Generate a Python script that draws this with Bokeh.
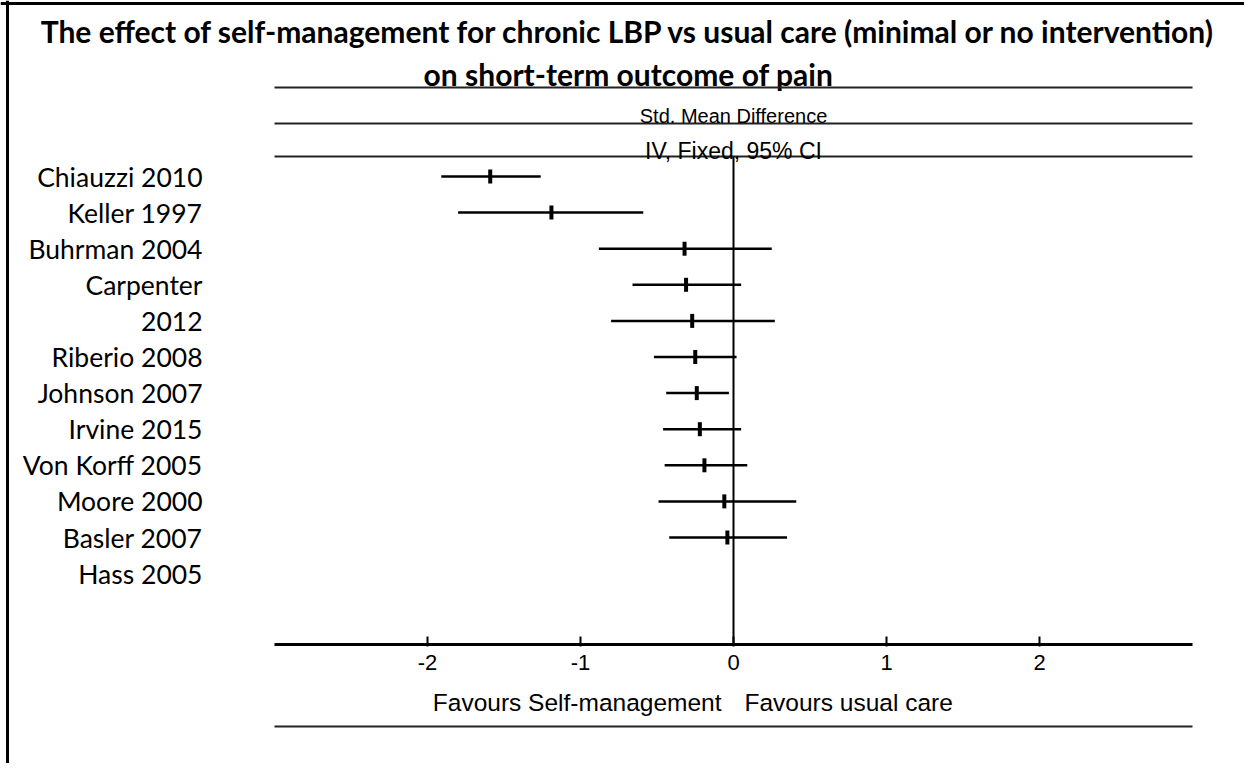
from bokeh.plotting import figure
from bokeh.models import Range1d, LinearAxis, FixedTicker, Span
from bokeh.core.properties import value
from bokeh.embed import file_html
from bokeh.resources import INLINE

# ---------------- data ----------------
title_lines = [
    "The effect of self-management for chronic LBP vs usual care (minimal or no intervention)",
    "on short-term outcome of pain",
]
study_labels = ["Chiauzzi 2010", "Keller 1997", "Buhrman 2004", "Carpenter", "2012",
                "Riberio 2008", "Johnson 2007", "Irvine 2015", "Von Korff 2005",
                "Moore 2000", "Basler 2007", "Hass 2005"]
smd = [-1.59, -1.19, -0.32, -0.31, -0.27, -0.25, -0.24, -0.22, -0.19, -0.06, -0.04]
ci_low = [-1.91, -1.80, -0.88, -0.66, -0.80, -0.52, -0.44, -0.46, -0.45, -0.49, -0.42]
ci_high = [-1.26, -0.59, 0.25, 0.05, 0.27, 0.02, -0.03, 0.05, 0.09, 0.41, 0.35]
x_ticks = [-2, -1, 0, 1, 2]
x_tick_labels = ["-2", "-1", "0", "1", "2"]
x_limits = [-3, 3]
header_texts = ["Std. Mean Difference", "IV, Fixed, 95% CI"]
favours_left = "Favours Self-management"
favours_right = "Favours usual care"

# ---------------- layout ----------------
W, H = 1244, 763
PX_UNIT = 153.0      # pixels per SMD unit
X0_PX = 733.0        # pixel of SMD = 0
ROW_PX = 36.1        # pixels per study row
ROW0_PX = 176.0      # pixel of first row


def ry(py):
    """pixel y -> row units"""
    return (py - ROW0_PX) / ROW_PX


def rx(px):
    """pixel x -> SMD units"""
    return (px - X0_PX) / PX_UNIT


x_range = Range1d(rx(0), rx(W))
y_range = Range1d(ry(H), ry(0))

p = figure(width=W, height=H, x_range=x_range, y_range=y_range,
           output_backend="svg", toolbar_location=None,
           x_axis_type=None, y_axis_type=None, min_border=0)
p.outline_line_color = None
p.background_fill_color = "white"
p.border_fill_color = "white"

# frame border (top and left only)
p.add_layout(Span(location=ry(3), dimension="width", line_color="black", line_width=3))
p.add_layout(Span(location=rx(7), dimension="height", line_color="black", line_width=3))

# title
p.text(x=[rx(628)] * 2, y=[ry(30), ry(73)], text=title_lines,
       text_font=value("Lato"), text_font_style="bold", text_font_size="30px",
       text_align="center", text_baseline="alphabetic", text_color="black")

# header rules and texts
hdr_y = [ry(87), ry(123), ry(156)]
p.segment(x0=[x_limits[0]] * 3, y0=hdr_y, x1=[x_limits[1]] * 3, y1=hdr_y,
          line_color="#222222", line_width=2)
p.text(x=[0], y=[ry(115)], text=[header_texts[0]],
       text_font=value("Liberation Sans"), text_font_size="20px",
       text_align="center", text_baseline="alphabetic", text_color="black")
p.text(x=[0], y=[ry(150)], text=[header_texts[1]],
       text_font=value("Liberation Sans"), text_font_size="23px",
       text_align="center", text_baseline="alphabetic", text_color="black")

axis_y = ry(644)

# line of no effect
p.segment(x0=[0], y0=[hdr_y[2]], x1=[0], y1=[axis_y], line_color="black", line_width=2)

# confidence intervals and point estimates
rows = list(range(len(smd)))
p.segment(x0=ci_low, y0=rows, x1=ci_high, y1=rows, line_color="black", line_width=2.5)
p.rect(x=smd, y=rows, width=4, height=14, width_units="screen", height_units="screen",
       fill_color="black", line_color=None)

# x axis
xaxis = LinearAxis(fixed_location=axis_y, ticker=FixedTicker(ticks=x_ticks),
                   bounds=(x_limits[0], x_limits[1]))
xaxis.major_label_overrides = dict(zip(x_ticks, x_tick_labels))
xaxis.axis_line_width = 3
xaxis.axis_line_color = "black"
xaxis.major_tick_in = 8
xaxis.major_tick_out = 2
xaxis.major_tick_line_width = 2
xaxis.major_tick_line_color = "black"
xaxis.minor_tick_line_color = None
xaxis.major_label_text_font = "Liberation Sans"
xaxis.major_label_text_font_size = "22px"
xaxis.major_label_text_color = "black"
xaxis.major_label_standoff = 8
p.add_layout(xaxis, "below")

# study labels
yaxis = LinearAxis(fixed_location=x_limits[0],
                   ticker=FixedTicker(ticks=list(range(len(study_labels)))))
yaxis.major_label_overrides = {i: lab for i, lab in enumerate(study_labels)}
yaxis.axis_line_color = None
yaxis.major_tick_line_color = None
yaxis.minor_tick_line_color = None
yaxis.major_tick_in = 0
yaxis.major_tick_out = 0
yaxis.major_label_standoff = 72
yaxis.major_label_text_font = "Lato"
yaxis.major_label_text_font_size = "26.5px"
yaxis.major_label_text_color = "black"
p.add_layout(yaxis, "left")

# favours texts
fav_y = ry(702)
p.text(x=[0], y=[fav_y], text=[favours_left], x_offset=-12,
       text_font=value("Liberation Sans"), text_font_size="24.5px",
       text_align="right", text_baseline="alphabetic", text_color="black")
p.text(x=[0], y=[fav_y], text=[favours_right], x_offset=11,
       text_font=value("Liberation Sans"), text_font_size="24.5px",
       text_align="left", text_baseline="alphabetic", text_color="black")

# bottom rule
bot_y = ry(726)
p.segment(x0=[x_limits[0]], y0=[bot_y], x1=[x_limits[1]], y1=[bot_y],
          line_color="#222222", line_width=2)

open("out.html", "w").write(file_html(p, INLINE))
